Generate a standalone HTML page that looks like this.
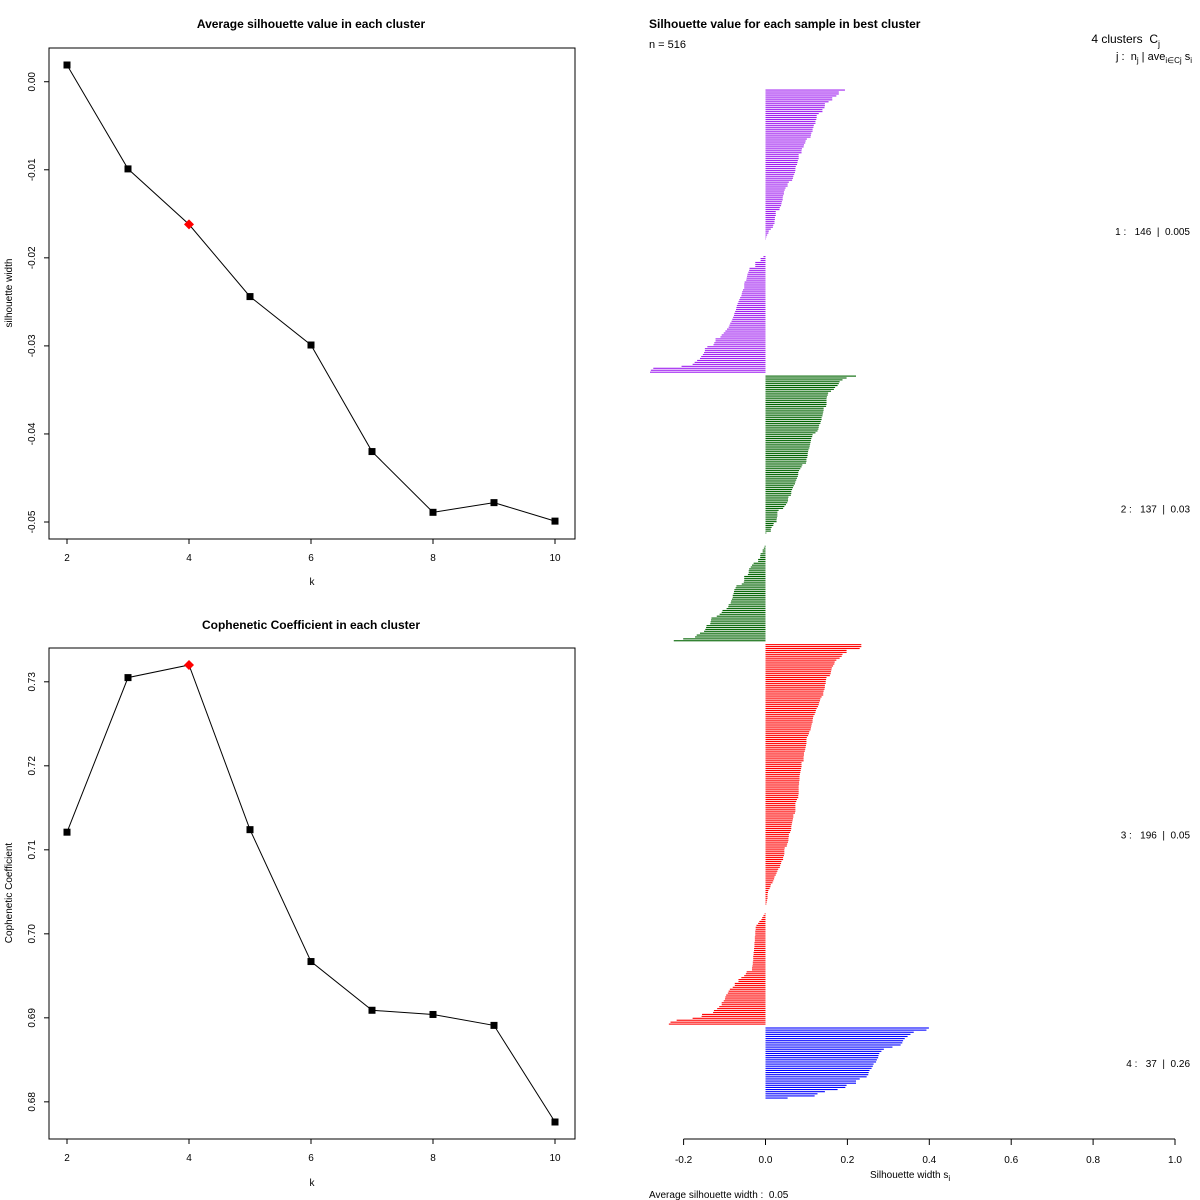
<!DOCTYPE html>
<html><head><meta charset="utf-8"><style>
html,body{margin:0;padding:0;background:#fff;}
svg{display:block;font-family:"Liberation Sans",Arial,sans-serif;}
text{white-space:pre;}
</style></head><body>
<svg id="c" width="1200" height="1200" viewBox="0 0 1200 1200">
<rect x="0" y="0" width="1200" height="1200" fill="#fff"/>
<text x="311" y="28" font-size="12" font-weight="bold" text-anchor="middle">Average silhouette value in each cluster</text>
<text x="311" y="629" font-size="12" font-weight="bold" text-anchor="middle">Cophenetic Coefficient in each cluster</text>
<text x="312" y="585" font-size="10" text-anchor="middle">k</text>
<text x="312" y="1186" font-size="10" text-anchor="middle">k</text>
<text transform="translate(12,293) rotate(-90)" font-size="10" text-anchor="middle">silhouette width</text>
<text transform="translate(12,893) rotate(-90)" font-size="10" text-anchor="middle">Cophenetic Coefficient</text>
<text x="649" y="28" font-size="12" font-weight="bold">Silhouette value for each sample in best cluster</text>
<text x="649" y="48" font-size="11">n = 516</text>
<text x="1160" y="43" font-size="12" text-anchor="end">4 clusters  C<tspan font-size="9" dy="4">j</tspan></text>
<text x="1192" y="60" font-size="11" text-anchor="end">j :  n<tspan font-size="8" dy="3">j</tspan><tspan dy="-3"> | ave</tspan><tspan font-size="8" dy="3">i∈Cj</tspan><tspan dy="-3"> s</tspan><tspan font-size="8" dy="3">i</tspan></text>
<text x="870" y="1178" font-size="10">Silhouette width s<tspan font-size="8" dy="3">i</tspan></text>
<text x="649" y="1198" font-size="10">Average silhouette width :  0.05</text>
<g id="g"></g>
</svg>
<script>
const ks=[2,3,4,5,6,7,8,9,10];
const silVals=[0.0019,-0.0099,-0.0162,-0.0244,-0.0299,-0.0420,-0.0489,-0.0478,-0.0499];
const copVals=[0.7121,0.7305,0.7320,0.7124,0.6967,0.6909,0.6904,0.6891,0.6776];
const bestK=4;
const xTicks=[2,4,6,8,10];
const silTicks=[0,-0.01,-0.02,-0.03,-0.04,-0.05];
const silTickLabels=["0.00","-0.01","-0.02","-0.03","-0.04","-0.05"];
const copTicks=[0.68,0.69,0.70,0.71,0.72,0.73];
const copTickLabels=["0.68","0.69","0.70","0.71","0.72","0.73"];
const clusterSizes=[146,137,196,37];
const clusterAvg=["0.005","0.03","0.05","0.26"];
const clusterColors=["#A020F0","#006400","#FF0000","#0000FF"];
const sTicks=[-0.2,0,0.2,0.4,0.6,0.8,1.0];
const sTickLabels=["-0.2","0.0","0.2","0.4","0.6","0.8","1.0"];
const c1=[0.194,0.179,0.179,0.173,0.163,0.163,0.154,0.145,0.145,0.144,0.139,0.139,0.130,0.125,0.125,0.124,0.122,0.122,0.118,0.117,0.115,0.115,0.112,0.111,0.110,0.101,0.098,0.097,0.094,0.093,0.089,0.088,0.088,0.081,0.081,0.081,0.079,0.078,0.077,0.074,0.073,0.073,0.072,0.070,0.068,0.067,0.065,0.057,0.054,0.054,0.049,0.047,0.045,0.045,0.043,0.042,0.042,0.040,0.039,0.038,0.035,0.034,0.025,0.025,0.025,0.023,0.023,0.022,0.022,0.019,0.018,0.013,0.008,0.007,0.004,0.002,0.001,0,0,0,0,0,0,0,0,
-0.005,-0.012,-0.012,-0.025,-0.025,-0.025,-0.039,-0.040,-0.042,-0.044,-0.045,-0.046,-0.047,-0.051,-0.052,-0.052,-0.052,-0.055,-0.057,-0.058,-0.059,-0.062,-0.064,-0.066,-0.068,-0.070,-0.071,-0.072,-0.074,-0.076,-0.077,-0.079,-0.081,-0.083,-0.086,-0.088,-0.090,-0.094,-0.098,-0.102,-0.107,-0.110,-0.122,-0.122,-0.125,-0.127,-0.142,-0.148,-0.148,-0.150,-0.153,-0.157,-0.160,-0.167,-0.173,-0.178,-0.205,-0.274,-0.280,-0.282];
const c2=[0.221,0.198,0.188,0.181,0.179,0.176,0.170,0.167,0.160,0.153,0.152,0.150,0.149,0.149,0.149,0.149,0.148,0.142,0.142,0.141,0.140,0.139,0.137,0.137,0.135,0.134,0.131,0.130,0.129,0.127,0.122,0.115,0.114,0.112,0.111,0.110,0.109,0.108,0.107,0.105,0.104,0.103,0.103,0.102,0.100,0.100,0.099,0.090,0.088,0.085,0.082,0.080,0.080,0.079,0.077,0.075,0.073,0.072,0.069,0.067,0.065,0.063,0.063,0.062,0.056,0.055,0.055,0.053,0.050,0.046,0.043,0.032,0.029,0.029,0.029,0.028,0.027,0.027,0.020,0.019,0.015,0.013,0.013,0.002,0,0,0,0,0,0,
-0.002,-0.004,-0.007,-0.007,-0.012,-0.013,-0.013,-0.018,-0.018,-0.029,-0.033,-0.036,-0.040,-0.041,-0.041,-0.043,-0.052,-0.052,-0.052,-0.053,-0.058,-0.071,-0.073,-0.076,-0.077,-0.078,-0.080,-0.080,-0.082,-0.084,-0.085,-0.090,-0.091,-0.095,-0.105,-0.107,-0.112,-0.119,-0.132,-0.133,-0.134,-0.135,-0.144,-0.145,-0.147,-0.150,-0.160,-0.168,-0.172,-0.201,-0.224];
const c3=[0.234,0.234,0.230,0.198,0.198,0.188,0.186,0.181,0.173,0.169,0.168,0.165,0.162,0.161,0.160,0.159,0.157,0.149,0.148,0.147,0.147,0.145,0.145,0.144,0.142,0.141,0.141,0.137,0.134,0.133,0.131,0.130,0.128,0.125,0.123,0.122,0.120,0.117,0.116,0.115,0.115,0.113,0.112,0.111,0.110,0.107,0.106,0.104,0.101,0.100,0.100,0.100,0.099,0.098,0.097,0.096,0.094,0.094,0.093,0.093,0.093,0.088,0.088,0.088,0.087,0.086,0.085,0.084,0.083,0.083,0.083,0.082,0.082,0.081,0.081,0.081,0.081,0.081,0.080,0.080,0.077,0.075,0.073,0.073,0.073,0.073,0.073,0.072,0.068,0.068,0.067,0.066,0.065,0.064,0.063,0.063,0.062,0.060,0.057,0.057,0.056,0.056,0.055,0.053,0.052,0.047,0.046,0.046,0.046,0.045,0.043,0.043,0.039,0.038,0.036,0.035,0.031,0.029,0.027,0.025,0.022,0.021,0.019,0.017,0.013,0.012,0.010,0.007,0.006,0.005,0.005,0.005,0.004,0.003,0.002,0,0,0,0,
-0.002,-0.005,-0.008,-0.010,-0.015,-0.018,-0.022,-0.024,-0.024,-0.025,-0.025,-0.025,-0.026,-0.026,-0.026,-0.027,-0.027,-0.027,-0.028,-0.028,-0.029,-0.029,-0.030,-0.030,-0.030,-0.031,-0.031,-0.032,-0.033,-0.033,-0.046,-0.048,-0.052,-0.059,-0.066,-0.066,-0.075,-0.075,-0.080,-0.087,-0.090,-0.092,-0.096,-0.098,-0.099,-0.102,-0.107,-0.107,-0.113,-0.118,-0.126,-0.128,-0.155,-0.156,-0.178,-0.217,-0.232,-0.236];
const c4=[0.399,0.393,0.362,0.354,0.347,0.340,0.336,0.334,0.330,0.310,0.289,0.283,0.278,0.276,0.275,0.272,0.270,0.264,0.262,0.259,0.254,0.252,0.251,0.247,0.230,0.221,0.221,0.198,0.195,0.176,0.145,0.127,0.120,0.054];
const clusterVals=[c1,c2,c3,c4];

const g=document.getElementById('g');
const NS='http://www.w3.org/2000/svg';
function mk(tag,attrs,parent){const e=document.createElementNS(NS,tag);for(const k in attrs)e.setAttribute(k,attrs[k]);(parent||g).appendChild(e);return e;}

function linePanel(top,vals,yTicks,yLabels,ymin,ymax,prefix){
  const L=49,R=575,T=top,B=top+491;
  const xs=k=>67+(k-2)*61;
  const ys=v=>B-17-(v-ymin)/(ymax-ymin)*(B-T-34);
  const box=mk('rect',{x:L,y:T,width:R-L,height:B-T,fill:'none',stroke:'#000','stroke-width':1});
  
  
  xTicks.forEach(k=>{
    const t=mk('line',{x1:xs(k),x2:xs(k),y1:B,y2:B+5,stroke:'#000'});
    
    
    const tx=mk('text',{x:xs(k),y:B+22,'font-size':10,'text-anchor':'middle'});
    tx.textContent=k;
    
    
  });
  yTicks.forEach((v,i)=>{
    const y=ys(v);
    const t=mk('line',{x1:L-5,x2:L,y1:y,y2:y,stroke:'#000'});
    
    
    const tx=mk('text',{transform:`translate(${L-14},${y}) rotate(-90)`,'font-size':10,'text-anchor':'middle'});
    tx.textContent=yLabels[i];
    
    
  });
  const pts=ks.map((k,i)=>xs(k)+','+ys(vals[i])).join(' ');
  const pl=mk('polyline',{points:pts,fill:'none',stroke:'#000','stroke-width':1});
  
  
  ks.forEach((k,i)=>{
    const x=xs(k),y=ys(vals[i]);
    if(k===bestK){
      const p=mk('polygon',{points:`${x},${y-5} ${x+5},${y} ${x},${y+5} ${x-5},${y}`,fill:'#f00'});
      
      
    }else{
      const p=mk('rect',{x:x-3.5,y:y-3.5,width:7,height:7,fill:'#000'});
      
      
    }
  });
}
linePanel(48,silVals,silTicks,silTickLabels,-0.05,0.0019,'silhouette');
linePanel(648,copVals,copTicks,copTickLabels,0.6776,0.7320,'cophenetic');

// silhouette bar plot
const sx=v=>765.5+v*409.5;
const totalSlots=clusterSizes.reduce((a,b)=>a+b,0)+clusterSizes.length-1;
const step=(1098-90)/(totalSlots-1);
let slot=0;
clusterVals.forEach((vals,ci)=>{
  const yStart=90+slot*step;
  const yEnd=90+(slot+clusterSizes[ci]-1)*step;
  const inner=vals.length>1?(yEnd-yStart)/(vals.length-1):0;
  vals.forEach((v,j)=>{
    const y=yStart+j*inner;
    if(v!==0){
      const b=mk('rect',{x:Math.min(sx(0),sx(v)),y:y-0.5,width:Math.abs(sx(v)-sx(0)),height:1.1,fill:clusterColors[ci]});
      
      
    }
  });
  slot+=clusterSizes[ci]+1;
  const lab=mk('text',{x:1190,y:(yStart+yEnd)/2+4,'font-size':10,'text-anchor':'end'});
  lab.textContent=`${ci+1} :   ${clusterSizes[ci]}  |  ${clusterAvg[ci]}`;
  
  
});
const ax=mk('line',{x1:sx(-0.2),x2:sx(1),y1:1139,y2:1139,stroke:'#000'});


sTicks.forEach((v,i)=>{
  const t=mk('line',{x1:sx(v),x2:sx(v),y1:1139,y2:1145,stroke:'#000'});
  
  
  const tx=mk('text',{x:sx(v),y:1163,'font-size':10,'text-anchor':'middle'});
  tx.textContent=sTickLabels[i];
  
  
});
</script>
</body></html>
